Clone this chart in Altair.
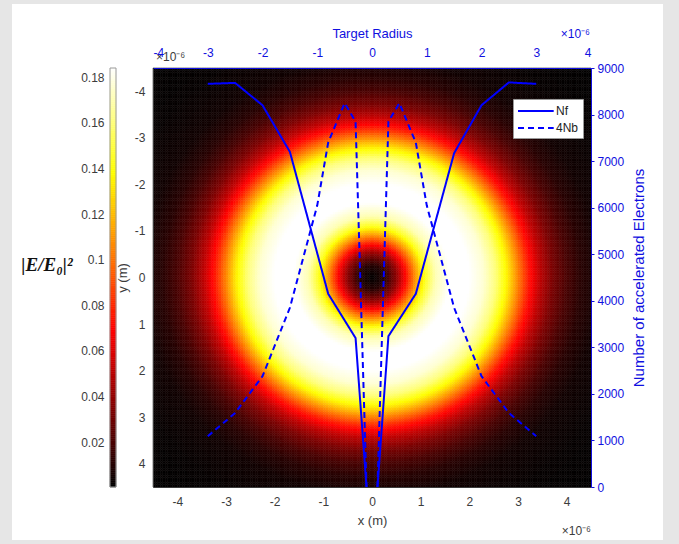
import altair as alt
import numpy as np
import pandas as pd

alt.data_transformers.disable_max_rows()

# ---- radial profile of |E/E0|^2 (r in micrometres) ----
profile_r = [0.0, 0.25, 0.5, 0.7, 0.9, 1.1, 1.3, 1.6, 2.0, 2.3, 2.55, 2.8, 3.0, 3.2, 3.45, 3.7, 4.0, 4.3, 4.7, 5.5, 6.5]
profile_v = [0.001, 0.010, 0.038, 0.072, 0.110, 0.145, 0.170, 0.184, 0.184, 0.176, 0.160, 0.132, 0.105, 0.078, 0.052, 0.034, 0.020, 0.011, 0.005, 0.002, 0.001]

# ---- electron counts vs target radius (x in micrometres) ----
nf_x = [-3.0, -2.5, -2.0, -1.5, -0.8, -0.3, -0.1, 0.1, 0.3, 0.8, 1.5, 2.0, 2.5, 3.0]
nf_y = [8660, 8680, 8200, 7200, 4150, 3200, 0, 0, 3240, 4150, 7170, 8200, 8690, 8660]

nb_x = [-3.0, -2.5, -2.0, -1.5, -1.0, -0.8, -0.5, -0.3, -0.1, 0.1, 0.3, 0.5, 0.8, 1.0, 1.5, 2.0, 2.5, 3.0]
nb_y = [1090, 1590, 2380, 3850, 6050, 7400, 8245, 7850, 0, 0, 7850, 8245, 7400, 6050, 3850, 2380, 1590, 1090]

series_names = ["Nf", "4Nb"]

# ---- ticks ----
xy_ticks = [-4, -3, -2, -1, 0, 1, 2, 3, 4]
top_ticks = [-4, -3, -2, -1, 0, 1, 2, 3, 4]
right_ticks = [0, 1000, 2000, 3000, 4000, 5000, 6000, 7000, 8000, 9000]
cb_ticks = [0.02, 0.04, 0.06, 0.08, 0.10, 0.12, 0.14, 0.16, 0.18]
cb_min, cb_max = 0.0004, 0.184

# ---- tables ----
step = 0.05
edges = np.round(np.arange(-4.5, 4.5 - 1e-9, step), 3)
gx, gy = np.meshgrid(edges, edges)
gx = gx.ravel()
gy = gy.ravel()
rr = np.hypot(gx + step / 2, gy + step / 2)
heat_df = pd.DataFrame({
    "x": gx, "y": gy,
    "v": np.round(np.interp(rr, profile_r, profile_v), 4),
})

cb_edges = np.linspace(cb_min, cb_max, 201)
cb_df = pd.DataFrame({"lo": cb_edges[:-1], "hi": cb_edges[1:],
                      "v": (cb_edges[:-1] + cb_edges[1:]) / 2})

rows = []
for name, xs, ys in [("Nf", nf_x, nf_y), ("4Nb", nb_x, nb_y)]:
    for xv, yv in zip(xs, ys):
        rows.append({"tx": xv, "n": yv, "series": name, "side": "L" if xv < 0 else "R"})
line_df = pd.DataFrame(rows)

one = pd.DataFrame({"k": [0]})

FONT = "Liberation Sans"
GRAY = "#3c3c3c"
BLUE = "#1010e0"
LINE_BLUE = "#0000ff"
R = cb_max - cb_min
hot = alt.Scale(domain=[cb_min, cb_min + 0.375 * R, cb_min + 0.75 * R, cb_max],
                range=["#000000", "#ff0000", "#ffff00", "#ffffff"],
                interpolate="rgb", clamp=True)

W, H = 438, 419

panel = alt.Chart(one).mark_rect(fill="white").encode(
    x=alt.value(-141), x2=alt.value(510), y=alt.value(-64), y2=alt.value(472)
)

heat = alt.Chart(heat_df).transform_calculate(
    x2=f"datum.x + {step}", y2=f"datum.y + {step}"
).mark_rect(strokeWidth=0.5).encode(
    x=alt.X("x:Q", scale=alt.Scale(domain=[-4.5, 4.5], nice=False, zero=False),
            axis=alt.Axis(orient="bottom", values=xy_ticks, title="x (m)",
                          labelExpr="'' + datum.value", ticks=False, zindex=1,
                          labelColor=GRAY, titleColor=GRAY, domainColor=GRAY,
                          labelFont=FONT, titleFont=FONT, labelFontSize=12,
                          titleFontSize=13, titleFontWeight="normal",
                          labelPadding=9, titlePadding=7, grid=False)),
    x2="x2:Q",
    y=alt.Y("y:Q", scale=alt.Scale(domain=[-4.5, 4.5], nice=False, zero=False, reverse=True),
            axis=alt.Axis(orient="left", values=xy_ticks, title="y (m)",
                          labelExpr="'' + datum.value", ticks=False, zindex=1,
                          labelColor=GRAY, titleColor=GRAY, domainColor=GRAY,
                          labelFont=FONT, titleFont=FONT, labelFontSize=12,
                          titleFontSize=13, titleFontWeight="normal",
                          labelPadding=8, titlePadding=5, grid=False)),
    y2="y2:Q",
    color=alt.Color("v:Q", scale=hot, legend=None),
    stroke=alt.Stroke("v:Q", scale=hot, legend=None),
)

colorbar = alt.Chart(cb_df).mark_rect(strokeWidth=0.6).encode(
    x=alt.value(-43), x2=alt.value(-37),
    y=alt.Y("lo:Q", scale=alt.Scale(domain=[cb_min, cb_max], nice=False, zero=False),
            axis=alt.Axis(orient="left", offset=43, values=cb_ticks, format=".2~f",
                          title=None, ticks=False, domain=False, grid=False, zindex=1,
                          labelColor=GRAY, labelFont=FONT, labelFontSize=12,
                          labelPadding=6)),
    y2="hi:Q",
    color=alt.Color("v:Q", scale=hot, legend=None),
    stroke=alt.Stroke("v:Q", scale=hot, legend=None),
)

cb_frame = alt.Chart(one).mark_rect(filled=False, stroke="#9a9a9a", strokeWidth=1).encode(
    x=alt.value(-43), x2=alt.value(-37), y=alt.value(0), y2=alt.value(H)
)

lines = alt.Chart(line_df).mark_line(color=LINE_BLUE, strokeWidth=2).encode(
    x=alt.X("tx:Q", scale=alt.Scale(domain=[-4, 4], nice=False, zero=False),
            axis=alt.Axis(orient="top", values=top_ticks, title="Target Radius",
                          labelExpr="'' + datum.value", ticks=False, zindex=1,
                          labelColor=BLUE, titleColor=BLUE, domainColor=BLUE,
                          labelFont=FONT, titleFont=FONT, labelFontSize=12,
                          titleFontSize=13, titleFontWeight="normal",
                          labelPadding=9, titlePadding=6, grid=False)),
    y=alt.Y("n:Q", scale=alt.Scale(domain=[0, 9000], nice=False),
            axis=alt.Axis(orient="right", values=right_ticks, format="d",
                          title="Number of accelerated Electrons", titleAngle=270,
                          titleBaseline="top",
                          ticks=True, tickSize=3, tickColor=BLUE, zindex=1,
                          labelColor=BLUE, titleColor=BLUE, domainColor=BLUE,
                          labelFont=FONT, titleFont=FONT, labelFontSize=12,
                          titleFontSize=15, titleFontWeight="normal",
                          labelPadding=3, titlePadding=8, grid=False)),
    strokeDash=alt.StrokeDash("series:N",
                              scale=alt.Scale(domain=series_names, range=[[1, 0], [6, 4]]),
                              legend=alt.Legend(title=None, orient="none", legendX=360, legendY=31,
                                                fillColor="white", strokeColor="#9a9a9a",
                                                padding=4, symbolType="M-1,0H4.1",
                                                symbolStrokeColor=LINE_BLUE, symbolStrokeWidth=2,
                                                symbolFillColor="transparent",
                                                symbolSize=196, labelFontSize=12,
                                                labelFont=FONT, labelColor="#222222",
                                                rowPadding=3, labelOffset=23)),
    detail="side:N",
)

cb_title = alt.Chart(one).mark_text(
    text="|E/E\u2080|\u00b2", font="Liberation Serif", fontSize=19, fontWeight="bold",
    fontStyle="italic", color="#111111", align="center", baseline="middle"
).encode(x=alt.value(-106), y=alt.value(197))

exp_top_left = alt.Chart(one).mark_text(
    text="\u00d710\u207b\u2076", font=FONT, fontSize=12, color=GRAY, align="left", baseline="middle"
).encode(x=alt.value(3), y=alt.value(-11))

exp_top_right = alt.Chart(one).mark_text(
    text="\u00d710\u207b\u2076", font=FONT, fontSize=12, color=BLUE, align="right", baseline="middle"
).encode(x=alt.value(437), y=alt.value(-34))

exp_bottom = alt.Chart(one).mark_text(
    text="\u00d710\u207b\u2076", font=FONT, fontSize=12, color=GRAY, align="right", baseline="middle"
).encode(x=alt.value(438), y=alt.value(463))

chart = alt.layer(
    panel, heat, colorbar, cb_frame, lines, cb_title, exp_top_left, exp_top_right, exp_bottom
).resolve_scale(
    x="independent", y="independent"
).properties(
    width=W, height=H,
    autosize=alt.AutoSizeParams(type="none"),
    padding={"left": 153, "top": 68, "right": 88, "bottom": 57},
).configure(
    background="#e6e6e6"
).configure_view(stroke=None)

chart.save("out.html", embed_options={"renderer": "svg", "actions": False})
